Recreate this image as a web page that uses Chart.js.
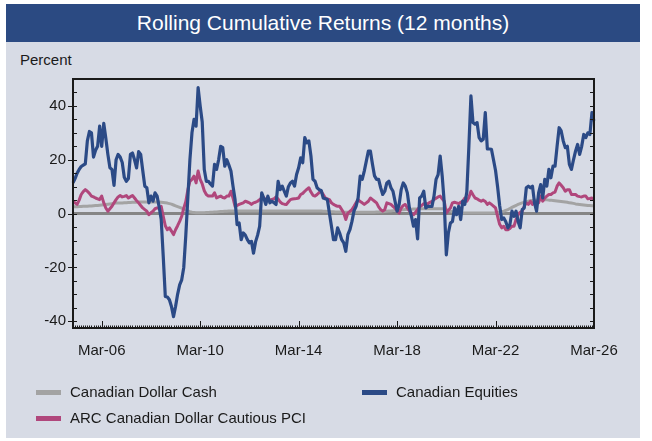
<!DOCTYPE html>
<html><head><meta charset="utf-8">
<script src="https://cdn.jsdelivr.net/npm/chart.js@4.4.1/dist/chart.umd.min.js"></script>
<style>
html,body{margin:0;padding:0;background:#fff;width:652px;height:441px;overflow:hidden;font-family:"Liberation Sans",Arial,sans-serif;}
#panel{position:absolute;left:6px;top:4px;width:634px;height:434px;background:#d7dbe5;}
#title{position:absolute;left:6px;top:4px;width:634px;height:38px;background:#2b4a82;color:#fff;font-size:21px;line-height:38px;text-align:center;}
#ylab{position:absolute;left:20px;top:51px;font-size:15px;color:#1a1a1a;}
#c{position:absolute;left:0;top:0;}
.leg{position:absolute;font-size:15px;color:#1a1a1a;line-height:18px;}
.sw{position:absolute;width:25px;height:5px;}
</style></head>
<body>
<div id="panel"></div>
<div id="title">Rolling Cumulative Returns (12 months)</div>
<div id="ylab">Percent</div>
<canvas id="c" width="652" height="441"></canvas>
<div id="legend"></div>
<script>
// Monthly categories Jan-05 .. Mar-26
const monthNames = ['Jan','Feb','Mar','Apr','May','Jun','Jul','Aug','Sep','Oct','Nov','Dec'];
const categories = [];
for (let y = 2005; y <= 2026; y++) {
  for (let m = 0; m < 12; m++) {
    if (y === 2026 && m > 2) break;
    categories.push(monthNames[m] + '-' + String(y).slice(2));
  }
}
const xTickLabels = ['Mar-06','Mar-10','Mar-14','Mar-18','Mar-22','Mar-26'];
const yTickValues = [-40,-20,0,20,40];

const seriesNames = ['Canadian Dollar Cash','Canadian Equities','ARC Canadian Dollar Cautious PCI'];

const canadianEquities = [
  11.4,13,15,16.4,17.5,18,18.5,27,30.5,30,21,23.5,
  25,32.5,25,33.5,28,22,17,16.4,10.5,20,22,21,
  19,13.5,12,13,22,22.5,20,17,23,22,16,10.2,
  9.6,4,6.5,4.6,7.7,6.5,2.5,-2.2,-16,-30.8,-31,-32,
  -34.5,-38.3,-34.5,-30,-26.5,-24.6,-20,-8,6,20,30,35,
  32.5,46.8,40,34,16.4,12,12,11,10.2,18.3,16.4,20,
  25,24.5,17.6,20,18,15.8,10.2,5.2,-4.1,-3.5,-9.7,-7.2,
  -8,-9.7,-10.9,-10.3,-14.7,-10.5,-8,-4.7,7.7,5.8,3.4,6.5,
  4,4.6,4,3.4,12,8.9,10.2,8.3,6.5,10,11.4,12,
  10.2,14.5,17,20.7,18.9,28.2,26.3,27,21.4,12.7,12,9.6,
  8.9,8.6,5.8,5.5,5.2,0.2,-4.7,-9.7,-9.7,-5.3,-7.2,-9.7,
  -10.9,-14,-7.8,-6,-2.9,1,2.7,5.8,13.9,12.7,15.8,19.5,
  23.2,23.2,18.3,14,12.7,12.7,9.6,7.1,8.3,11.4,12,9.6,
  8.3,4.6,0.9,3.4,8.9,11.4,10.2,7.7,2.1,-1,-4.7,-2.2,
  -9.4,5.8,6.5,8.3,2.1,2.7,2.7,2.7,6.5,12.7,14.5,21.4,
  13.9,4,-15.3,-7.2,-3.5,-2.9,2.1,-0.4,2.7,-2.2,4.6,3.4,
  8,25,43.7,33.8,33.2,33.8,28.2,27,27.6,37.5,24,24,
  23.9,20,16,10,3,-2.2,-1.6,-3,-5.3,-4.1,0.9,-1,
  0.9,-2.9,-5.3,1.5,2.1,9.6,10.2,9.6,10.2,4,0.9,7.7,
  10.8,5.8,12.7,10.2,16.4,13.3,17.6,17.6,25,31.9,30.7,27,
  24.5,25,18.3,16.4,20,23.2,25.7,22,25,29.4,28.2,30,
  29.4,37.5,34.4
];

const arcCautiousPCI = [
  4.6,4,3.4,5,7.1,8.2,8.9,8.3,7.5,6.5,6.2,5.8,
  5.5,5.2,6.5,4,2.1,0.9,1.8,2.7,4,5.2,6.2,6.7,
  6.2,6.4,6.7,5.8,6.3,6.7,5.8,4.8,4,3,2.1,1.5,
  0.9,-0.4,0.3,0.9,1.8,2.1,2.1,2.7,-1,-4.5,-6,-5.3,
  -6.5,-7.8,-6,-4.5,-2.9,-1,2,4.5,8.9,12,12.7,13.9,
  11.4,15.8,12.7,11,8.5,7.1,6.5,6.5,6.5,7.7,5.8,6.2,
  6.5,6,5.8,6.5,6.5,8.3,5.8,2.7,3,3.4,3.7,4,
  4.6,4.3,4,3.4,4,4.2,4.6,5.2,5.8,5.8,5.2,5.2,
  5,5.3,5.5,6.2,5.4,4.3,3.7,3.5,3.4,4.3,5.2,5.4,
  5.5,5.6,5.8,7.1,7.5,8.3,9,9.6,8,6.8,6.5,7.1,
  7.8,8.3,7.1,5.8,5.5,5.2,4,3.4,3,2.7,2.7,1.5,
  0.2,-2.2,0.2,0.8,1.5,2.7,4,5.2,4.5,4,3.4,4,
  4.6,5.8,5.2,4.6,4,2.5,1.5,0.9,1.5,4,3.7,3.4,
  2.7,2,1,0.2,2.1,3,3.4,2.1,1,0.2,-0.4,0.5,
  1.5,2.5,3,3.7,3.7,3.7,4.2,4.5,5.2,5.7,6.2,6.5,
  5.5,4.6,0.2,1.2,2.1,4,4.2,4,3.7,4.2,4.6,5.8,
  4.6,6,8.3,7,5.8,5.5,5,4.6,5,4.5,3.4,4,
  3.4,2.8,2.1,-1,-4,-5.3,-4.7,-6,-6,-5.5,-4.7,-4.7,
  -2.2,-0.4,0.5,0.9,2.7,4,3.4,4.6,3.4,4.6,4.2,4,
  6.5,4.6,5.8,6.5,7.1,7.1,7.7,8,10.2,11.4,10.5,9.6,
  8.3,8.9,8.9,7.1,7.1,7.1,6.5,6.3,6.2,6.5,6.5,5.5,
  5.6,5.8,5
];

const canadianDollarCash = [
  2.5,2.5,2.5,2.6,2.6,2.7,2.7,2.7,2.8,2.8,2.9,3.0,
  3.0,3.1,3.2,3.3,3.4,3.5,3.6,3.7,3.8,3.9,3.9,3.9,
  3.9,4.0,4.0,4.1,4.1,4.2,4.2,4.2,4.3,4.3,4.3,4.3,
  4.3,4.3,4.3,4.3,4.3,4.3,4.3,4.2,4.1,4.0,3.9,3.7,
  3.5,3.2,2.9,2.6,2.3,2.0,1.6,1.3,1.0,0.7,0.5,0.4,
  0.3,0.3,0.3,0.3,0.3,0.4,0.4,0.5,0.5,0.6,0.6,0.7,
  0.8,0.8,0.9,0.9,1.0,1.0,1.0,1.0,1.0,1.0,1.0,1.0,
  1.0,1.0,1.0,1.0,1.0,1.0,1.0,1.0,1.0,1.0,1.0,1.0,
  1.0,1.0,1.0,1.0,1.0,1.0,1.0,1.0,1.0,1.0,1.0,1.0,
  1.0,1.0,1.0,1.0,1.0,1.0,1.0,1.0,1.0,1.0,1.0,1.0,
  1.0,1.0,0.9,0.9,0.8,0.8,0.7,0.7,0.6,0.6,0.6,0.6,
  0.5,0.5,0.5,0.5,0.5,0.5,0.5,0.5,0.5,0.5,0.5,0.5,
  0.5,0.5,0.5,0.5,0.6,0.6,0.7,0.7,0.8,0.9,1.0,1.0,
  1.1,1.2,1.2,1.3,1.4,1.4,1.5,1.5,1.6,1.6,1.7,1.7,
  1.7,1.8,1.8,1.8,1.8,1.8,1.8,1.8,1.8,1.8,1.8,1.8,
  1.8,1.7,1.5,1.2,0.9,0.7,0.5,0.4,0.3,0.3,0.2,0.2,
  0.2,0.2,0.2,0.2,0.2,0.2,0.2,0.2,0.2,0.2,0.2,0.2,
  0.2,0.2,0.3,0.4,0.5,0.7,0.9,1.2,1.5,1.9,2.3,2.7,
  3.0,3.4,3.7,4.0,4.2,4.4,4.6,4.8,4.9,5.0,5.0,5.1,
  5.1,5.1,5.1,5.1,5.0,5.0,4.9,4.8,4.7,4.6,4.5,4.4,
  4.3,4.2,4.0,3.9,3.8,3.6,3.5,3.4,3.3,3.2,3.1,3.0,
  3.0,2.9,2.9
];

const colors = { cash:'#a3a3a3', equities:'#2b4a86', arc:'#b0477c', zero:'#858585', axis:'#1a1a1a' };
const FONT = '"Liberation Sans", Arial, sans-serif';

const decoPlugin = {
  id: 'deco',
  beforeDatasetsDraw(chart) {
    const { ctx, chartArea: a, scales: { y } } = chart;
    const y0 = y.getPixelForValue(0);
    ctx.save();
    ctx.strokeStyle = colors.zero; ctx.lineWidth = 3;
    ctx.beginPath(); ctx.moveTo(a.left, y0); ctx.lineTo(a.right, y0); ctx.stroke();
    ctx.restore();
  },
  afterDatasetsDraw(chart) {
    const { ctx, chartArea: a, scales: { x, y } } = chart;
    ctx.save();
    ctx.strokeStyle = colors.axis;
    ctx.lineWidth = 2;
    ctx.strokeRect(a.left, a.top, a.right - a.left, a.bottom - a.top);
    ctx.lineWidth = 1;
    for (let v = -40; v <= 50; v += 5) {
      const py = Math.round(y.getPixelForValue(v)) + 0.5;
      ctx.beginPath();
      ctx.moveTo(a.left, py); ctx.lineTo(a.left + 4, py);
      ctx.moveTo(a.right, py); ctx.lineTo(a.right - 4, py);
      ctx.stroke();
    }
    yTickValues.forEach(v => {
      const py = Math.round(y.getPixelForValue(v)) + 0.5;
      ctx.beginPath(); ctx.moveTo(a.left - 5, py); ctx.lineTo(a.left, py); ctx.stroke();
    });
    for (let i = 0; i < categories.length; i++) {
      const px = Math.round(x.getPixelForValue(i)) + 0.5;
      ctx.beginPath(); ctx.moveTo(px, a.bottom); ctx.lineTo(px, a.bottom - 2.5); ctx.stroke();
    }
    xTickLabels.forEach(l => {
      const i = categories.indexOf(l);
      const px = Math.round(x.getPixelForValue(i)) + 0.5;
      ctx.beginPath(); ctx.moveTo(px, a.bottom); ctx.lineTo(px, a.bottom - 7); ctx.stroke();
    });
    ctx.restore();
  }
};

const chart = new Chart(document.getElementById('c'), {
  type: 'line',
  data: {
    labels: categories,
    datasets: [
      { label: seriesNames[1], data: canadianEquities, borderColor: colors.equities, borderWidth: 3.2 },
      { label: seriesNames[2], data: arcCautiousPCI, borderColor: colors.arc, borderWidth: 3 },
      { label: seriesNames[0], data: canadianDollarCash, borderColor: colors.cash, borderWidth: 3 }
    ]
  },
  options: {
    responsive: false,
    animation: false,
    events: [],
    elements: { point: { radius: 0 }, line: { tension: 0, borderJoinStyle: 'round' } },
    layout: { padding: { left: 23, right: 58, top: 79, bottom: 83 } },
    plugins: { legend: { display: false }, tooltip: { enabled: false }, title: { display: false } },
    scales: {
      x: {
        type: 'category',
        offset: false,
        grid: { display: false, drawTicks: false },
        border: { display: false },
        ticks: {
          autoSkip: false, maxRotation: 0, minRotation: 0, padding: 14,
          color: '#1a1a1a', font: { family: FONT, size: 15 },
          callback: (v, i) => xTickLabels.includes(categories[i]) ? categories[i] : ''
        },
        afterFit: s => { s.height = 30; }
      },
      y: {
        min: -42.5, max: 50,
        grid: { display: false, drawTicks: false },
        border: { display: false },
        afterBuildTicks: s => { s.ticks = yTickValues.map(v => ({ value: v })); },
        ticks: { padding: 7, color: '#1a1a1a', font: { family: FONT, size: 15 }, callback: v => String(v) },
        afterFit: s => { s.width = 50; }
      }
    }
  },
  plugins: [decoPlugin]
});

const legendItems = [
  { name: seriesNames[0], color: colors.cash, x: 36, y: 392 },
  { name: seriesNames[1], color: colors.equities, x: 362, y: 392 },
  { name: seriesNames[2], color: colors.arc, x: 36, y: 418 }
];
const lg = document.getElementById('legend');
legendItems.forEach(it => {
  const sw = document.createElement('div');
  sw.className = 'sw'; sw.style.left = it.x + 'px'; sw.style.top = (it.y - 2) + 'px'; sw.style.background = it.color;
  const t = document.createElement('div');
  t.className = 'leg'; t.textContent = it.name; t.style.left = (it.x + 34) + 'px'; t.style.top = (it.y - 9) + 'px';
  lg.appendChild(sw); lg.appendChild(t);
});
</script>
</body></html>
